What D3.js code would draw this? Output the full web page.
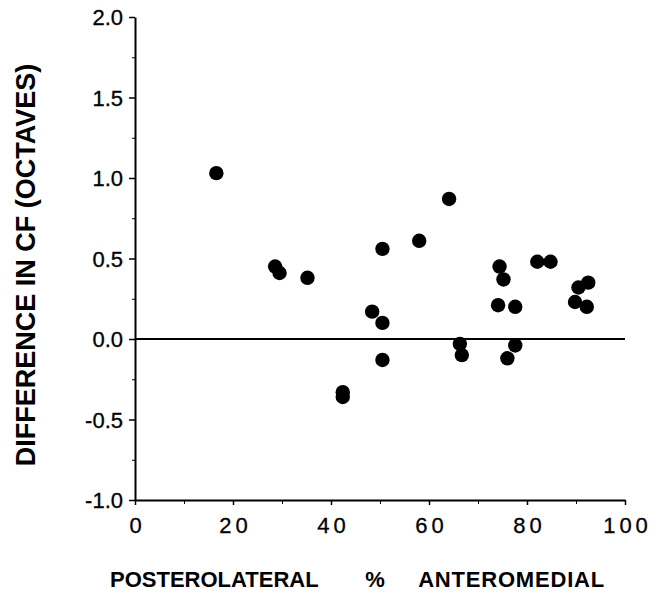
<!DOCTYPE html>
<html>
<head>
<meta charset="utf-8">
<script src="https://cdn.jsdelivr.net/npm/d3@7"></script>
<style>
  body { margin: 0; background: #fff; }
  svg { display: block; }
</style>
</head>
<body>
<svg id="chart" width="663" height="601"></svg>
<script>
// position along posterolateral -> anteromedial axis (%)
const position = [16.6, 28.6, 29.5, 35.2, 42.4, 42.4, 48.4, 50.5, 50.5, 50.5,
  58.0, 64.1, 66.3, 66.7, 74.1, 74.4, 75.2, 76.0, 77.6, 77.6,
  82.1, 84.8, 89.8, 90.5, 92.2, 92.5]
// difference in CF (octaves)
const cfDiff = [1.03, 0.45, 0.41, 0.38, -0.33, -0.36, 0.17, 0.56, 0.10, -0.13,
  0.61, 0.87, -0.03, -0.10, 0.21, 0.45, 0.37, -0.12, 0.20, -0.04,
  0.48, 0.48, 0.23, 0.32, 0.20, 0.35]
const xTicks = [0, 20, 40, 60, 80, 100]
const yTicks = [-1.0, -0.5, 0.0, 0.5, 1.0, 1.5, 2.0]
const xTitle = ['POSTEROLATERAL', '%', 'ANTEROMEDIAL']
const yTitle = 'DIFFERENCE IN CF (OCTAVES)'

const svg = d3.select('#chart')
const x = d3.scaleLinear().domain([0, 100]).range([135, 625])
const y = d3.scaleLinear().domain([-1, 2]).range([500, 17])

const font = '"Liberation Sans", Arial, Helvetica, sans-serif'

// y axis
const yAxis = svg.append('g')
  .attr('transform', `translate(${x(0)},0)`)
  .call(d3.axisLeft(y).tickValues(yTicks).tickSize(6).tickSizeOuter(0))
yAxis.select('.domain').attr('stroke-width', 2)
yAxis.selectAll('.tick line').attr('stroke-width', 1.5)
yAxis.selectAll('.tick text')
  .attr('font-family', font).attr('font-size', 22).attr('fill', '#000')
  .attr('stroke', '#000').attr('stroke-width', 0.3)
  .attr('x', -12).attr('dy', '0.36em')
  .text(d => d3.format('.1f')(d).replace('−', '-'))
svg.append('g')
  .attr('transform', `translate(${x(0)},0)`)
  .call(d3.axisLeft(y).tickValues(d3.range(-0.75, 2, 0.5)).tickSize(3).tickFormat(''))
  .call(g => g.select('.domain').remove())

// x axis
const xAxis = svg.append('g')
  .attr('transform', `translate(0,${y(-1)})`)
  .call(d3.axisBottom(x).tickValues(xTicks).tickSize(5).tickSizeOuter(0))
xAxis.select('.domain').attr('stroke-width', 2)
xAxis.selectAll('.tick line').attr('stroke-width', 1.5)
xAxis.selectAll('.tick text')
  .attr('font-family', font).attr('font-size', 22).attr('fill', '#000')
  .attr('stroke', '#000').attr('stroke-width', 0.3)
  .attr('letter-spacing', 4).attr('dx', 2).attr('y', 33).attr('dy', 0)
svg.append('g')
  .attr('transform', `translate(0,${y(-1)})`)
  .call(d3.axisBottom(x).tickValues(d3.range(10, 100, 20)).tickSize(4).tickFormat(''))
  .call(g => g.select('.domain').remove())

// zero line
svg.append('line')
  .attr('x1', x(0)).attr('x2', x(100))
  .attr('y1', y(0)).attr('y2', y(0))
  .attr('stroke', '#000').attr('stroke-width', 2)

// points
svg.append('g').selectAll('circle')
  .data(position)
  .join('circle')
  .attr('cx', d => x(d))
  .attr('cy', (d, i) => y(cfDiff[i]))
  .attr('r', 7.2)
  .attr('fill', '#000')

// axis titles
svg.append('text')
  .attr('transform', 'translate(35,265) rotate(-90)')
  .attr('text-anchor', 'middle')
  .attr('font-family', font).attr('font-weight', 'bold').attr('font-size', 27)
  .text(yTitle)

const titleX = [[110, 'start'], [375, 'middle'], [605, 'end']]
svg.append('g').selectAll('text')
  .data(xTitle)
  .join('text')
  .attr('x', (d, i) => titleX[i][0])
  .attr('y', 587)
  .attr('text-anchor', (d, i) => titleX[i][1])
  .attr('font-family', font).attr('font-weight', 'bold').attr('font-size', 22)
  .attr('letter-spacing', (d, i) => i === 2 ? 0.8 : 0)
  .text(d => d)
</script>
</body>
</html>
